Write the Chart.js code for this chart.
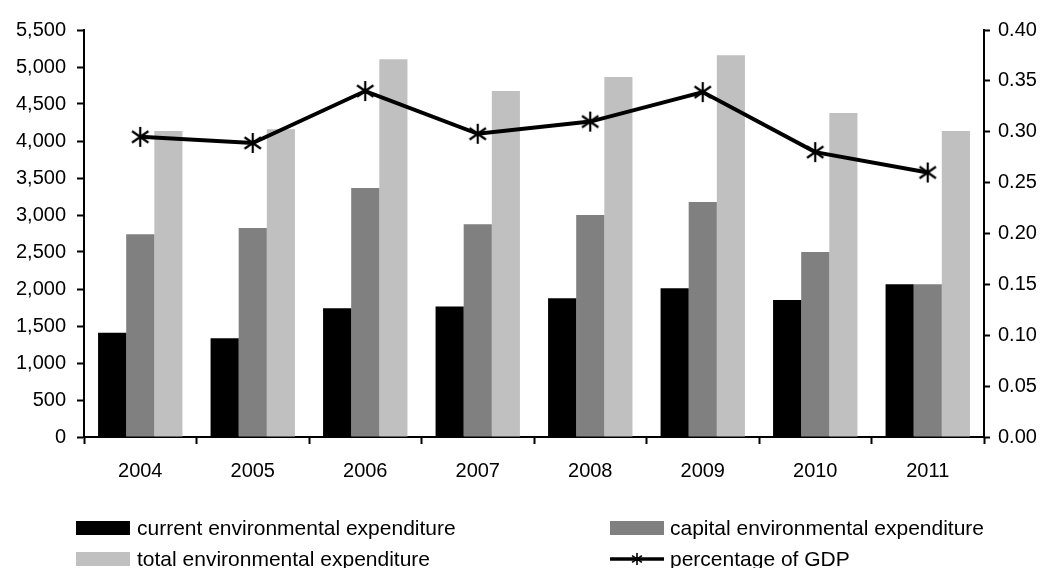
<!DOCTYPE html>
<html>
<head>
<meta charset="utf-8">
<script src="https://cdn.jsdelivr.net/npm/chart.js@4/dist/chart.umd.min.js"></script>
<style>
  html, body { margin: 0; padding: 0; background: #fff; }
  #wrap { position: relative; width: 1042px; height: 568px; overflow: hidden; font-family: "Liberation Sans", Arial, sans-serif; }
  #c { position: absolute; left: 0; top: 0; }
  .leg { position: absolute; font-size: 21px; color: #000; white-space: nowrap; line-height: 24px; }
  .box { position: absolute; width: 54px; height: 14px; }
</style>
</head>
<body>
<div id="wrap">
  <canvas id="c" width="1042" height="568"></canvas>
  <div class="box" style="left:76px; top:521px; background:#000000;"></div>
  <div class="leg" style="left:137px; top:516px;">current environmental expenditure</div>
  <div class="box" style="left:610px; top:521px; background:#808080;"></div>
  <div class="leg" style="left:670px; top:516px;">capital environmental expenditure</div>
  <div class="box" style="left:76px; top:552px; background:#c0c0c0;"></div>
  <div class="leg" style="left:137px; top:547px;">total environmental expenditure</div>
  <canvas id="lm" width="54" height="20" style="position:absolute; left:610px; top:549px;"></canvas>
  <div class="leg" style="left:670px; top:547px;">percentage of GDP</div>
</div>
<script>
const years = ["2004", "2005", "2006", "2007", "2008", "2009", "2010", "2011"];
const currentExp = [1410, 1335, 1740, 1765, 1875, 2010, 1850, 2065];
const capitalExp = [2740, 2825, 3365, 2875, 3000, 3175, 2500, 2065];
const totalExp = [4135, 4160, 5105, 4675, 4865, 5160, 4380, 4135];
const gdpPct = [0.295, 0.289, 0.340, 0.298, 0.310, 0.339, 0.280, 0.260];

function makeStar(size, lw) {
  const c = document.createElement('canvas');
  c.width = size; c.height = size;
  const g = c.getContext('2d');
  g.strokeStyle = '#000'; g.lineWidth = lw;
  const m = size / 2, r = size / 2 - 1;
  g.beginPath();
  g.moveTo(m, m - r); g.lineTo(m, m + r);
  const a = 35 * Math.PI / 180;
  const dx = r * Math.cos(a), dy = r * Math.sin(a);
  g.moveTo(m - dx, m - dy); g.lineTo(m + dx, m + dy);
  g.moveTo(m - dx, m + dy); g.lineTo(m + dx, m - dy);
  g.stroke();
  return c;
}
const star = makeStar(22, 2.2);

// legend marker for line
(function () {
  const lm = document.getElementById('lm');
  const g = lm.getContext('2d');
  g.strokeStyle = '#000'; g.lineWidth = 3.5;
  g.beginPath(); g.moveTo(0, 10); g.lineTo(54, 10); g.stroke();
  g.drawImage(makeStar(14, 1.6), 20, 3);
})();

const FONT = { family: '"Liberation Sans", Arial, sans-serif', size: 20 };

new Chart(document.getElementById('c'), {
  data: {
    labels: years,
    datasets: [
      { type: 'line', label: 'percentage of GDP', data: gdpPct, yAxisID: 'y1', order: 0,
        borderColor: '#000', borderWidth: 4, pointStyle: star, pointRadius: 11,
        pointHoverRadius: 11, tension: 0, fill: false },
      { type: 'bar', label: 'current environmental expenditure', data: currentExp, yAxisID: 'y', order: 1,
        backgroundColor: '#000000', categoryPercentage: 0.75, barPercentage: 1.0 },
      { type: 'bar', label: 'capital environmental expenditure', data: capitalExp, yAxisID: 'y', order: 1,
        backgroundColor: '#808080', categoryPercentage: 0.75, barPercentage: 1.0 },
      { type: 'bar', label: 'total environmental expenditure', data: totalExp, yAxisID: 'y', order: 1,
        backgroundColor: '#c0c0c0', categoryPercentage: 0.75, barPercentage: 1.0 }
    ]
  },
  options: {
    responsive: false,
    animation: false,
    layout: { padding: { top: 30, bottom: 0, left: 0, right: 0 } },
    plugins: { legend: { display: false }, tooltip: { enabled: false } },
    scales: {
      x: {
        offset: true,
        grid: { offset: true, drawOnChartArea: false, drawTicks: true, tickLength: 7, tickWidth: 2, color: '#000' },
        border: { display: true, color: '#000', width: 2 },
        ticks: { color: '#000', font: FONT, padding: 15, maxRotation: 0 },
        afterFit: (s) => { s.height = 131; }
      },
      y: {
        position: 'left', min: 0, max: 5500,
        grid: { drawOnChartArea: false, drawTicks: true, tickLength: 7, tickWidth: 2, color: '#000' },
        border: { display: true, color: '#000', width: 2 },
        ticks: { stepSize: 500, color: '#000', font: FONT, padding: 11,
          callback: (v) => v.toLocaleString('en-US') },
        afterFit: (s) => { s.width = 84; }
      },
      y1: {
        position: 'right', min: 0, max: 0.4,
        grid: { drawOnChartArea: false, drawTicks: true, tickLength: 6, tickWidth: 2, color: '#000' },
        border: { display: true, color: '#000', width: 2 },
        ticks: { stepSize: 0.05, color: '#000', font: FONT, padding: 8,
          callback: (v) => Number(v).toFixed(2) },
        afterFit: (s) => { s.width = 58; }
      }
    }
  }
});
</script>
</body>
</html>
